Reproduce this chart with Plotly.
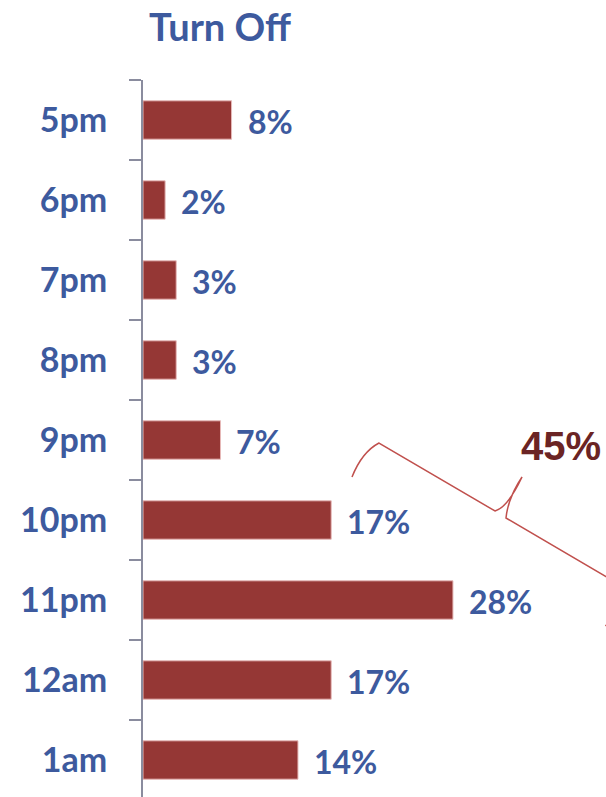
import plotly.graph_objects as go

categories = ["5pm", "6pm", "7pm", "8pm", "9pm", "10pm", "11pm", "12am", "1am"]
values = [8, 2, 3, 3, 7, 17, 28, 17, 14]
value_labels = ["8%", "2%", "3%", "3%", "7%", "17%", "28%", "17%", "14%"]
title_text = "Turn Off"
brace_label = "45%"

W, H = 606, 797
L, R, T, B = 143, 0, 80, 0
PW, PH = W - L - R, H - T - B

BLUE = "#3D5A9E"
BAR = "#953735"

def px(xp, yp):
    return (xp - L) / PW, 1 - (yp - T) / PH

fig = go.Figure(go.Bar(
    x=values, y=categories, orientation="h",
    marker=dict(color=BAR, line=dict(color="#E6B9B8", width=1)),
    width=0.48, hoverinfo="skip",
))

for v, c, lab in zip(values, categories, value_labels):
    fig.add_annotation(x=v, y=c, text=f"<b>{lab}</b>", showarrow=False,
                       xanchor="left", yanchor="middle", xshift=14, yshift=-1,
                       font=dict(family="Lato", size=32, color=BLUE))

# brace in pixel coordinates -> paper
pts = {
    "e1": (352, 477), "c1q": (362, 452), "k1": (379, 443),
    "A": (495, 511), "q1": (508, 507), "Tp": (522, 477),
    "q2": (508, 498), "Bp": (506, 518), "k2": (622, 586),
    "c2q": (622.4, 605.3), "e2": (605.5, 626),
}
P = {k: px(*v) for k, v in pts.items()}
def f(k):
    return f"{P[k][0]:.4f},{P[k][1]:.4f}"
path = (f"M {f('e1')} Q {f('c1q')} {f('k1')} L {f('A')} Q {f('q1')} {f('Tp')} "
        f"Q {f('q2')} {f('Bp')} L {f('k2')} Q {f('c2q')} {f('e2')}")
fig.add_shape(type="path", path=path, xref="paper", yref="paper",
              line=dict(color="#C0504D", width=1.5))

lx, ly = px(561, 446)
fig.add_annotation(x=lx, y=ly, xref="paper", yref="paper", text=f"<b>{brace_label}</b>",
                   showarrow=False, xanchor="center", yanchor="middle",
                   font=dict(family="Liberation Sans", size=40, color="#6B2424"))

tx, ty = px(220, 1)
fig.add_annotation(x=tx, y=ty, xref="paper", yref="paper", text=f"<b>{title_text}</b>",
                   showarrow=False, xanchor="center", yanchor="top",
                   font=dict(family="Lato", size=38, color=BLUE))

fig.update_layout(
    width=W, height=H,
    margin=dict(l=L, r=R, t=T, b=B, pad=0),
    paper_bgcolor="white", plot_bgcolor="white",
    showlegend=False,
    xaxis=dict(range=[0, PW / 11.07], visible=False, fixedrange=True),
    yaxis=dict(type="category", categoryorder="array", categoryarray=categories,
               range=[-0.5 + PH / 80, -0.5], showline=True, linecolor="#8A8C9E",
               linewidth=2, ticks="outside", tickson="boundaries", ticklen=12,
               tickcolor="#8A8C9E", tickwidth=2, showgrid=False, zeroline=False,
               ticklabelstandoff=27,
               tickfont=dict(family="Lato", size=34, color=BLUE), fixedrange=True),
)
fig.update_yaxes(tickprefix="<b>", ticksuffix="</b>")

fig.write_html("out.html", config={"displayModeBar": False},
               post_script="document.body.style.margin='0';document.body.style.overflow='hidden';")
